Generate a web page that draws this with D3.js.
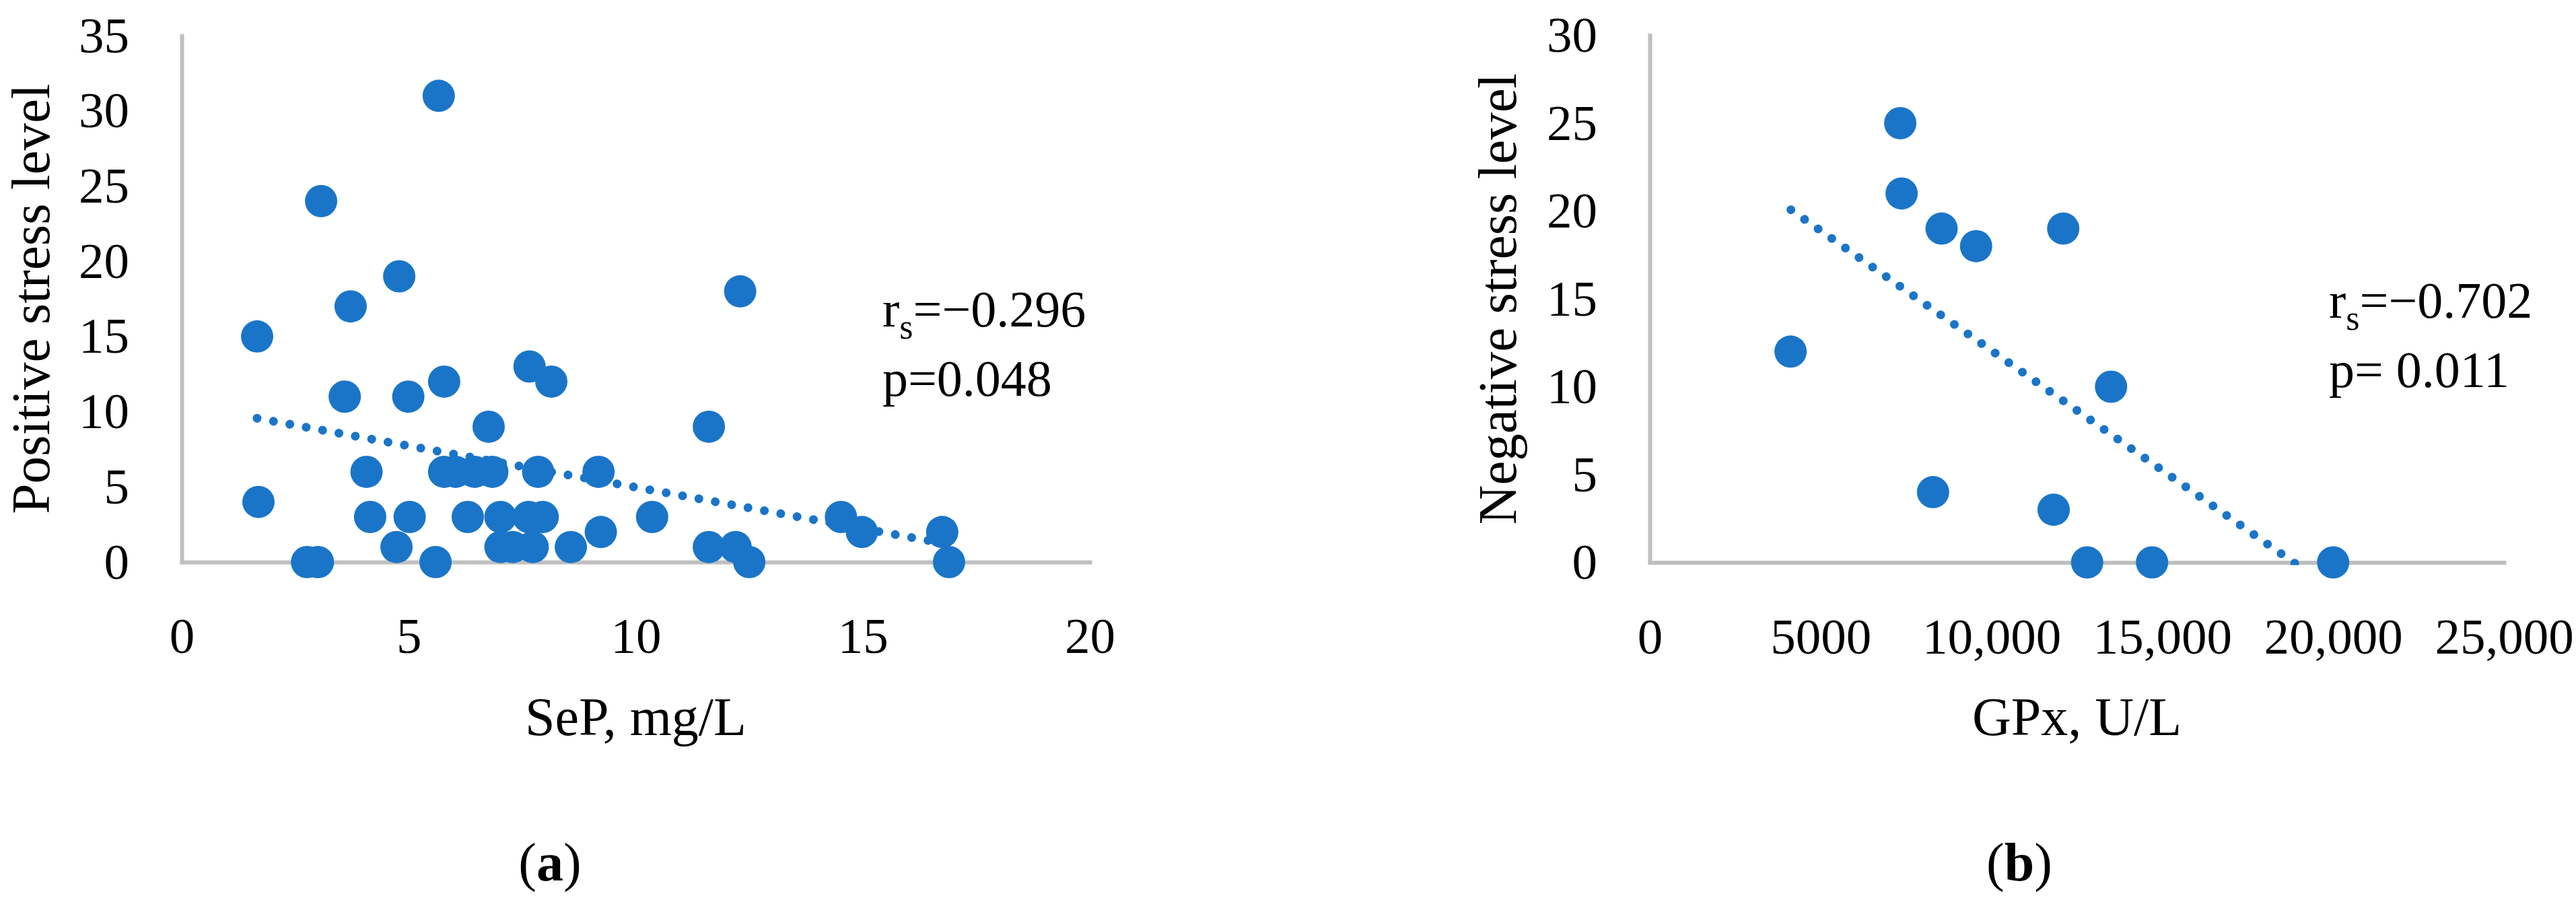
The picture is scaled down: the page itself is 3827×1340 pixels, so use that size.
<!DOCTYPE html>
<html>
<head>
<meta charset="utf-8">
<script src="https://cdn.jsdelivr.net/npm/d3@7"></script>
<style>
  html, body { margin: 0; padding: 0; background: #ffffff; }
  svg { display: block; }
  text { font-family: "Liberation Serif", "Times New Roman", serif; fill: #000; }
</style>
</head>
<body>
<script>
// ---------- DATA ----------
// Panel (a): SeP (mg/L) vs Positive stress level
const sepX = [1.66, 1.69, 2.76, 3.0, 3.07, 3.59, 3.72, 4.07, 4.15, 4.73, 4.79, 4.99, 5.02, 5.59, 5.66,
              5.78, 5.78, 6.03, 6.3, 6.45, 6.76, 6.84, 7.02, 7.02, 7.29, 7.64, 7.66, 7.73, 7.85, 7.95,
              8.14, 8.57, 9.18, 9.23, 10.36, 11.61, 11.61, 12.2, 12.3, 12.5, 14.52, 14.98, 16.75, 16.9];
const posStress = [15, 4, 0, 0, 24, 11, 17, 6, 3, 1, 19, 11, 3, 0, 31,
                   12, 6, 6, 3, 6, 9, 6, 3, 1, 1, 3, 13, 1, 6, 3,
                   12, 1, 6, 2, 3, 9, 1, 1, 18, 0, 3, 2, 2, 0];
const trendA_X = [1.66, 16.9];
const trendA_Y = [9.56, 1.18];
const ticksAX = [0, 5, 10, 15, 20];
const ticksAXLabels = ["0", "5", "10", "15", "20"];
const ticksAY = [0, 5, 10, 15, 20, 25, 30, 35];
const ticksAYLabels = ["0", "5", "10", "15", "20", "25", "30", "35"];

// Panel (b): GPx (U/L) vs Negative stress level
const gpxX = [4120, 7330, 7370, 8290, 8540, 9550, 11820, 12100, 12800, 13500, 14700, 20000];
const negStress = [12, 25, 21, 4, 19, 18, 3, 19, 0, 10, 0, 0];
const trendB_X = [4130, 20000];
const trendB_Y = [20.07, -1.58];
const ticksBX = [0, 5000, 10000, 15000, 20000, 25000];
const ticksBXLabels = ["0", "5000", "10,000", "15,000", "20,000", "25,000"];
const ticksBY = [0, 5, 10, 15, 20, 25, 30];
const ticksBYLabels = ["0", "5", "10", "15", "20", "25", "30"];

const axisTitlesX = ["SeP, mg/L", "GPx, U/L"];
const axisTitlesY = ["Positive stress level", "Negative stress level"];
const statR = ["=\u22120.296", "=\u22120.702"];
const statP = ["p=0.048", "p= 0.011"];
const captions = ["a", "b"];

// ---------- STYLE ----------
const W = 3827, H = 1340;
const BLUE = "#1a75c8";
const AXIS_GRAY = "#bfbfbf";

const svg = d3.select("body").append("svg")
  .attr("width", W).attr("height", H)
  .attr("viewBox", `0 0 ${W} ${H}`);
svg.append("rect").attr("width", W).attr("height", H).attr("fill", "#fff");

const panels = [
  {
    xs: sepX, ys: posStress, tx: trendA_X, ty: trendA_Y,
    xDom: [0, 20], yDom: [0, 35], xRange: [270, 1619], yRange: [835, 53],
    xTicks: ticksAX, xLabels: ticksAXLabels, yTicks: ticksAY, yLabels: ticksAYLabels,
    xTitle: axisTitlesX[0], yTitle: axisTitlesY[0], yTitleX: 73,
    statX: 1311, statY: 485, r: statR[0], p: statP[0],
    cap: captions[0], capX: 817
  },
  {
    xs: gpxX, ys: negStress, tx: trendB_X, ty: trendB_Y,
    xDom: [0, 25000], yDom: [0, 30], xRange: [2451, 3720], yRange: [835.5, 52.5],
    xTicks: ticksBX, xLabels: ticksBXLabels, yTicks: ticksBY, yLabels: ticksBYLabels,
    xTitle: axisTitlesX[1], yTitle: axisTitlesY[1], yTitleX: 2252,
    statX: 3460, statY: 472, r: statR[1], p: statP[1],
    cap: captions[1], capX: 3000
  }
];

panels.forEach((P, i) => {
  const x = d3.scaleLinear().domain(P.xDom).range(P.xRange);
  const y = d3.scaleLinear().domain(P.yDom).range(P.yRange);
  const g = svg.append("g");

  // axes
  const ax = d3.axisBottom(x).tickValues(P.xTicks)
    .tickFormat((d, k) => P.xLabels[k]).tickSize(0).tickSizeOuter(0).tickPadding(82);
  const ay = d3.axisLeft(y).tickValues(P.yTicks)
    .tickFormat((d, k) => P.yLabels[k]).tickSize(0).tickSizeOuter(0).tickPadding(78);

  const gx = g.append("g").attr("transform", `translate(0,${P.yRange[0]})`).call(ax);
  const gy = g.append("g").attr("transform", `translate(${P.xRange[0]},0)`).call(ay);
  [gx, gy].forEach(a => {
    a.select(".domain").attr("stroke", AXIS_GRAY).attr("stroke-width", 6).attr("stroke-linecap", "square");
    a.selectAll("text").attr("font-family", "Liberation Serif").attr("font-size", 75).attr("fill", "#000");
  });

  // clip for trend line
  const clipId = "clip" + i;
  svg.append("clipPath").attr("id", clipId).append("rect")
    .attr("x", P.xRange[0]).attr("y", P.yRange[1])
    .attr("width", P.xRange[1] - P.xRange[0]).attr("height", P.yRange[0] - P.yRange[1] + 4);

  // trend line (round dotted)
  const trend = P.tx.map((v, k) => [v, P.ty[k]]);
  g.append("path")
    .datum(trend)
    .attr("clip-path", `url(#${clipId})`)
    .attr("d", d3.line().x(d => x(d[0])).y(d => y(d[1])))
    .attr("fill", "none").attr("stroke", BLUE).attr("stroke-width", 13)
    .attr("stroke-linecap", "round").attr("stroke-dasharray", "0.01 24.7");

  // markers
  const pts = P.xs.map((v, k) => [v, P.ys[k]]);
  g.append("g").selectAll("circle").data(pts).join("circle")
    .attr("cx", d => x(d[0])).attr("cy", d => y(d[1])).attr("r", 24)
    .attr("fill", BLUE);

  // axis titles
  const cx = (P.xRange[0] + P.xRange[1]) / 2;
  g.append("text").attr("x", cx).attr("y", 1092).attr("text-anchor", "middle")
    .attr("font-size", 80).text(P.xTitle);
  const cy = (P.yRange[0] + P.yRange[1]) / 2;
  g.append("text").attr("transform", `translate(${P.yTitleX},${cy}) rotate(-90)`)
    .attr("text-anchor", "middle").attr("font-size", 81).text(P.yTitle);

  // stats annotation
  const t1 = g.append("text").attr("x", P.statX).attr("y", P.statY).attr("font-size", 76);
  t1.append("tspan").text("r");
  t1.append("tspan").attr("font-size", 52).attr("dy", 18).text("s");
  t1.append("tspan").attr("dy", -18).text(P.r);
  g.append("text").attr("x", P.statX).attr("y", P.statY + 103).attr("font-size", 76).text(P.p);

  // caption
  const c = g.append("text").attr("x", P.capX).attr("y", 1308).attr("text-anchor", "middle").attr("font-size", 80);
  c.append("tspan").text("(");
  c.append("tspan").attr("font-weight", "bold").text(P.cap);
  c.append("tspan").text(")");
});
</script>
</body>
</html>
